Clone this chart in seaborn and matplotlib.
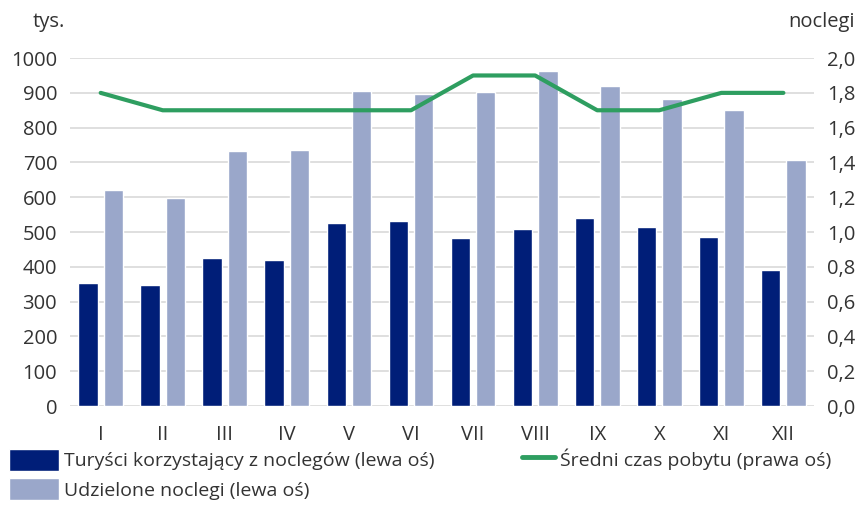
import matplotlib
matplotlib.use("Agg")
import matplotlib.pyplot as plt
from matplotlib.ticker import FuncFormatter, MultipleLocator
from matplotlib.patches import Patch
from matplotlib.lines import Line2D
from matplotlib.legend_handler import HandlerLine2D
import seaborn as sns
import pandas as pd

months = ["I", "II", "III", "IV", "V", "VI", "VII", "VIII", "IX", "X", "XI", "XII"]
tourists = [355, 347, 425, 419, 525, 533, 484, 509, 540, 515, 486, 392]
nights = [621, 599, 733, 735, 905, 898, 903, 962, 920, 881, 851, 707]
avg_stay = [1.8, 1.7, 1.7, 1.7, 1.7, 1.7, 1.9, 1.9, 1.7, 1.7, 1.8, 1.8]

lab_t = "Turyści korzystający z noclegów (lewa oś)"
lab_n = "Udzielone noclegi (lewa oś)"
lab_s = "Średni czas pobytu (prawa oś)"

c_dark = "#001E78"
c_light = "#9AA7CA"
c_green = "#2E9E60"
txt = "#333333"

sns.set_theme(style="white")
plt.rcParams["font.family"] = ["Open Sans", "DejaVu Sans"]

df = pd.DataFrame({
    "month": months * 2,
    "value": tourists + nights,
    "series": [lab_t] * 12 + [lab_n] * 12,
})
dline = pd.DataFrame({"month": months, "stay": avg_stay})

fig = plt.figure(figsize=(8.6, 5.28), dpi=100)
ax = fig.add_axes([0.081, 0.231, 0.866, 0.659])

sns.barplot(data=df, x="month", y="value", hue="series",
            palette=[c_dark, c_light], width=0.82, gap=0.24,
            ax=ax, legend=False, saturation=1)
ax.set_ylim(0, 1000)
ax.yaxis.set_major_locator(MultipleLocator(100))
ax.grid(axis="y", color="#d9d9d9", linewidth=1.2)
ax.set_axisbelow(True)
for s in ax.spines.values():
    s.set_visible(False)
ax.set_xlabel("")
ax.set_ylabel("")
ax.tick_params(axis="both", length=0, labelsize=14.5, colors=txt, pad=9)
ax.tick_params(axis="x", pad=14)

ax2 = ax.twinx()
sns.lineplot(data=dline, x="month", y="stay", sort=False, color=c_green,
             linewidth=3, ax=ax2, legend=False)
ax2.set_ylim(0, 2.0)
ax2.yaxis.set_major_locator(MultipleLocator(0.2))
ax2.yaxis.set_major_formatter(FuncFormatter(lambda v, p: f"{v:.1f}".replace(".", ",")))
for s in ax2.spines.values():
    s.set_visible(False)
ax2.set_ylabel("")
ax2.tick_params(axis="y", length=0, labelsize=14.5, colors=txt, pad=9)
ax.set_xlim(-0.5, 11.5)

fig.text(0.038, 0.94, "tys.", fontsize=14.5, color=txt, ha="left", va="bottom")
fig.text(0.994, 0.94, "noclegi", fontsize=14.5, color=txt, ha="right", va="bottom")


class ShortLine(HandlerLine2D):
    def get_xdata(self, legend, xdescent, ydescent, width, height, fontsize):
        xd, xm = super().get_xdata(legend, xdescent, ydescent, width, height, fontsize)
        start = -xdescent + width * 0.35
        end = -xdescent + width
        return [start, end], [start, end]


handles = [Patch(facecolor=c_dark, label=lab_t),
           Patch(facecolor=c_light, label=lab_n),
           Line2D([0], [0], color=c_green, linewidth=3.5, label=lab_s)]
fig.legend(handles=handles, loc="upper left", bbox_to_anchor=(0.001, 0.165),
           ncol=2, frameon=False, fontsize=14, handlelength=2.6,
           handleheight=1.35, handletextpad=0.25, columnspacing=3.6,
           labelspacing=0.4, borderaxespad=0, labelcolor=txt,
           handler_map={Line2D: ShortLine()})

fig.savefig("out.png", dpi=100)
